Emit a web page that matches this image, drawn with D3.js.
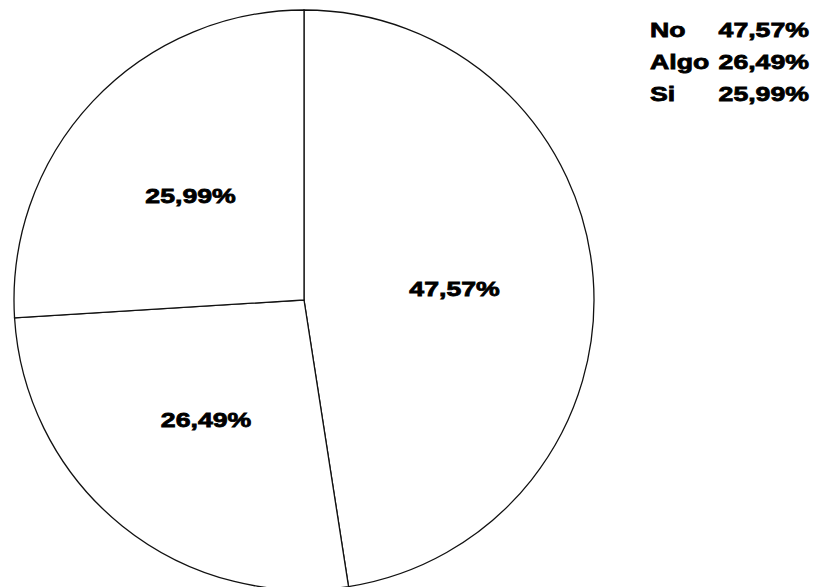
<!DOCTYPE html>
<html>
<head>
<meta charset="utf-8">
<script src="https://cdn.jsdelivr.net/npm/d3@7/dist/d3.min.js"></script>
<style>
  html, body { margin: 0; padding: 0; background: #fff; }
  svg { display: block; }
  text { font-family: "Liberation Sans", Arial, sans-serif; font-weight: bold; fill: #000; stroke: #000; stroke-width: 0.8px; }
</style>
</head>
<body>
<svg id="chart" width="817" height="587"></svg>
<script>
// Answer categories and their shares (percent)
const categories = ["No", "Algo", "Si"];
const values = [47.57, 26.49, 25.99];
const valueLabels = ["47,57%", "26,49%", "25,99%"];

const width = 817, height = 587;
const cx = 304, cy = 300, radius = 290;
const stretch = 1.27; // wide bold lettering

const svg = d3.select("#chart");

const data = categories.map((c, i) => ({ cat: c, value: values[i], label: valueLabels[i] }));

const pie = d3.pie()
  .sort(null)
  .value(d => d.value);

const arcs = pie(data);

const arc = d3.arc().innerRadius(0).outerRadius(radius);
const labelArc = d3.arc().innerRadius(153).outerRadius(153);

const g = svg.append("g").attr("transform", `translate(${cx},${cy})`);

g.selectAll("path.slice")
  .data(arcs)
  .join("path")
  .attr("class", "slice")
  .attr("d", arc)
  .attr("fill", "#fff")
  .attr("stroke", "#111")
  .attr("stroke-width", 1.3);

g.selectAll("text.value")
  .data(arcs)
  .join("text")
  .attr("class", "value")
  .attr("transform", d => {
    const [x, y] = labelArc.centroid(d);
    return `translate(${x - 2},${y + 8}) scale(${stretch},1)`;
  })
  .attr("text-anchor", "middle")
  .style("font-size", "21px")
  .text(d => d.data.label);

// Legend: category name and its share
const legend = svg.append("g");
const rowY = d3.scalePoint().domain(categories).range([37, 101]);

legend.selectAll("text.cat")
  .data(data)
  .join("text")
  .attr("class", "cat")
  .attr("transform", d => `translate(650,${rowY(d.cat)}) scale(${stretch},1)`)
  .style("font-size", "21px")
  .text(d => d.cat);

legend.selectAll("text.pct")
  .data(data)
  .join("text")
  .attr("class", "pct")
  .attr("transform", d => `translate(809,${rowY(d.cat)}) scale(${stretch},1)`)
  .attr("text-anchor", "end")
  .style("font-size", "21px")
  .text(d => d.label);
</script>
</body>
</html>
